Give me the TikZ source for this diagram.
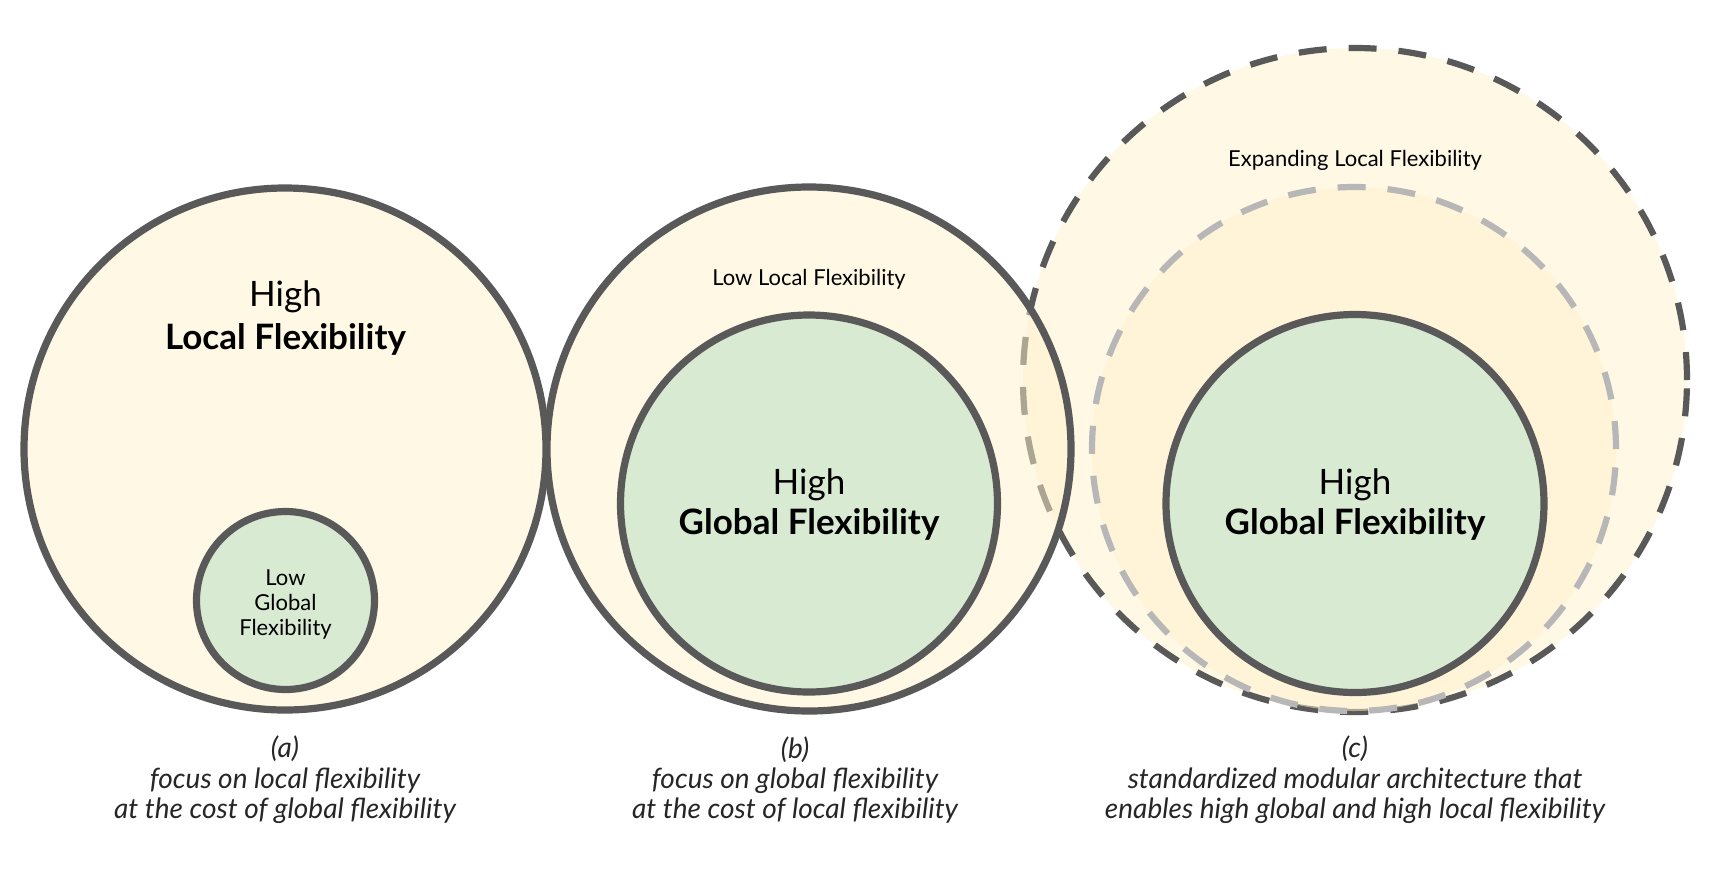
\documentclass[tikz,border=0pt]{standalone}
\usepackage{fontspec}
\setmainfont{Lato}
\begin{document}
\begin{tikzpicture}[x=0.5pt,y=0.5pt,
  rim/.style={draw=rimgrey,line width=3.6pt},
  creamdisc/.style={circle,inner sep=0pt,outer sep=0pt,fill=cream,fill opacity=0.5,rim},
  greendisc/.style={circle,inner sep=0pt,outer sep=0pt,fill=sage,rim},
  longdash/.style={line width=3.1pt,dash pattern=on 14pt off 11pt},
  bigtxt/.style={font=\fontsize{17.5}{22}\selectfont,align=center,text=black},
  smalltxt/.style={font=\fontsize{11}{12.5}\selectfont,align=center,text=black},
  captxt/.style={font=\fontsize{14}{15.2}\selectfont\itshape,align=center,text=black!85}]
\definecolor{cream}{HTML}{FFF2CC}
\definecolor{sage}{HTML}{D9EAD3}
\definecolor{rimgrey}{HTML}{595959}
\definecolor{lightrim}{HTML}{B7B7B7}
\useasboundingbox[fill=white] (0,0) rectangle (1709,-875);

% (c) expanding local flexibility
\node[creamdisc,longdash,minimum size=332pt] (cOuter) at (1355,-380) {};
\node[creamdisc,longdash,draw=lightrim,minimum size=262pt] (cMid) at (1354,-449) {};
\node[greendisc,minimum size=189pt] (cCore) at (1355,-503.5) {};

% (a) local flexibility
\node[creamdisc,minimum size=261pt] (aOuter) at (285,-449) {};
\node[greendisc,minimum size=89pt] (aCore) at (285.5,-600.5) {};

% (b) global flexibility
\node[creamdisc,minimum size=262pt] (bOuter) at (809,-449) {};
\node[greendisc,minimum size=188.5pt] (bCore) at (809,-503.5) {};

% labels inside the circles
\node[bigtxt] (aHigh) at (285.5,-297) {High};
\node[bigtxt] (aLocal) at (285.5,-339) {\bfseries Local Flexibility};
\node[smalltxt] (aLow) at (285.5,-604) {Low\\Global\\Flexibility};

\node[smalltxt] (bLow) at (809,-279) {Low Local Flexibility};
\node[bigtxt] (bHigh) at (809,-485) {High};
\node[bigtxt] (bGlobal) at (809,-524) {\bfseries Global Flexibility};

\node[smalltxt] (cExp) at (1355,-160) {Expanding Local Flexibility};
\node[bigtxt] (cHigh) at (1355,-485) {High};
\node[bigtxt] (cGlobal) at (1355,-524) {\bfseries Global Flexibility};

% captions
\node[captxt] (aCap) at (285,-780) {(a)\\focus on local flexibility\\at the cost of global flexibility};
\node[captxt] (bCap) at (795,-780) {(b)\\focus on global flexibility\\at the cost of local flexibility};
\node[captxt] (cCap) at (1355,-780) {(c)\\standardized modular architecture that\\enables high global and high local flexibility};
\end{tikzpicture}
\end{document}
